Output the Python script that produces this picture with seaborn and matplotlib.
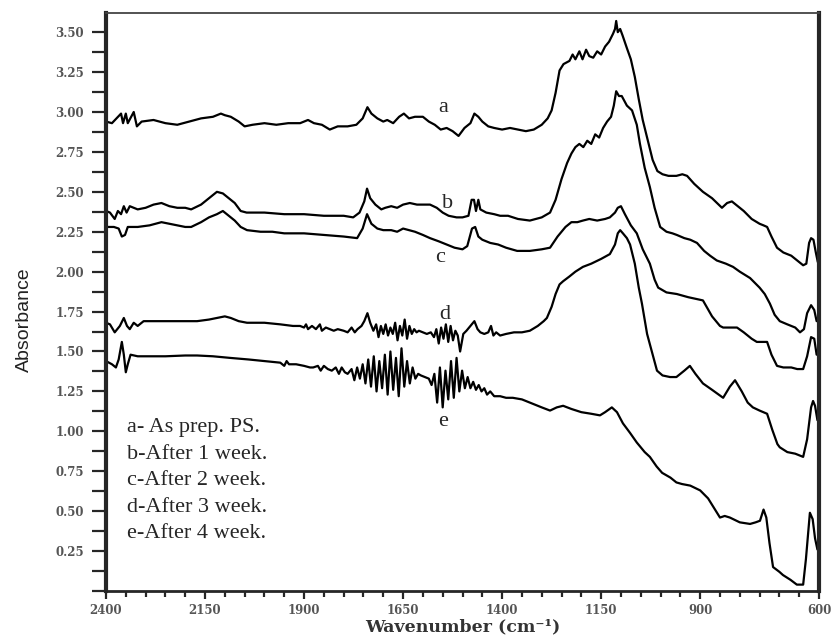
import numpy as np
import pandas as pd
import matplotlib
matplotlib.use('Agg')
import matplotlib.pyplot as plt
import seaborn as sns
from matplotlib.ticker import MultipleLocator, FormatStrFormatter

# spectra: wavenumber (cm-1) / absorbance
a_wn = [2400, 2385, 2362, 2357, 2350, 2345, 2330, 2322, 2310, 2280, 2250, 2220, 2190, 2160, 2130, 2110, 2100, 2085,
        2065, 2050, 2030, 2000, 1970, 1940, 1910, 1890, 1875, 1855, 1835, 1815, 1790, 1768, 1752, 1740, 1730, 1715,
        1700, 1690, 1675, 1660, 1648, 1635, 1620, 1600, 1585, 1570, 1555, 1540, 1525, 1510, 1495, 1480, 1470, 1460,
        1450, 1435, 1420, 1400, 1380, 1360, 1340, 1320, 1300, 1285, 1275, 1265, 1255, 1245, 1230, 1222, 1215, 1205,
        1197, 1188, 1180, 1170, 1160, 1150, 1140, 1130, 1120, 1115, 1112, 1108, 1102, 1096, 1085, 1075, 1065, 1055,
        1045, 1035, 1020, 1008, 995, 980, 960, 945, 933, 915, 893, 870, 845, 832, 820, 805, 790, 770, 750, 740, 731,
        720, 706, 690, 670, 655, 640, 632, 625, 620, 614, 608, 603]
a_abs = [2.94, 2.93, 2.99, 2.93, 2.99, 2.93, 3.00, 2.91, 2.94, 2.95, 2.93, 2.92, 2.94, 2.96, 2.97, 2.99, 2.98, 2.97,
         2.94, 2.91, 2.92, 2.93, 2.92, 2.93, 2.93, 2.95, 2.93, 2.92, 2.89, 2.91, 2.91, 2.92, 2.96, 3.03, 2.99, 2.96,
         2.94, 2.95, 2.93, 2.97, 2.99, 2.96, 2.97, 2.97, 2.94, 2.92, 2.89, 2.90, 2.88, 2.85, 2.90, 2.93, 2.99, 2.97,
         2.94, 2.91, 2.90, 2.89, 2.90, 2.89, 2.88, 2.89, 2.92, 2.96, 3.01, 3.12, 3.26, 3.30, 3.32, 3.36, 3.33, 3.38,
         3.33, 3.39, 3.35, 3.34, 3.38, 3.36, 3.41, 3.44, 3.49, 3.52, 3.57, 3.50, 3.52, 3.48, 3.40, 3.33, 3.22, 3.08,
         2.95, 2.85, 2.70, 2.63, 2.61, 2.60, 2.60, 2.61, 2.60, 2.55, 2.50, 2.46, 2.40, 2.43, 2.44, 2.41, 2.38, 2.33,
         2.30, 2.29, 2.28, 2.22, 2.15, 2.12, 2.10, 2.07, 2.04, 2.05, 2.18, 2.21, 2.20, 2.12, 2.06]

b_wn = [2400, 2390, 2378, 2370, 2362, 2355, 2348, 2340, 2320, 2300, 2280, 2260, 2240, 2220, 2200, 2185, 2160, 2140,
        2120, 2105, 2090, 2075, 2060, 2045, 2000, 1950, 1900, 1850, 1800, 1776, 1760, 1748, 1741, 1733, 1720, 1705,
        1695, 1680, 1665, 1650, 1633, 1615, 1598, 1582, 1565, 1550, 1535, 1515, 1500, 1485, 1477, 1471, 1466, 1460,
        1455, 1440, 1420, 1405, 1385, 1360, 1330, 1300, 1279, 1265, 1250, 1236, 1225, 1215, 1205, 1195, 1185, 1175,
        1165, 1155, 1145, 1135, 1125, 1118, 1112, 1105, 1098, 1085, 1072, 1060, 1052, 1040, 1027, 1015, 1001, 985,
        970, 959, 940, 925, 908, 890, 875, 858, 835, 817, 800, 774, 750, 737, 724, 712, 699, 680, 660, 648, 638, 630,
        620, 612, 606]
b_abs = [2.38, 2.37, 2.33, 2.38, 2.36, 2.41, 2.37, 2.41, 2.39, 2.40, 2.42, 2.43, 2.41, 2.40, 2.40, 2.39, 2.42, 2.46,
         2.50, 2.49, 2.46, 2.43, 2.38, 2.37, 2.37, 2.36, 2.36, 2.35, 2.35, 2.34, 2.37, 2.44, 2.52, 2.46, 2.42, 2.39,
         2.40, 2.41, 2.40, 2.42, 2.43, 2.42, 2.42, 2.42, 2.40, 2.37, 2.35, 2.34, 2.34, 2.35, 2.45, 2.45, 2.38, 2.45,
         2.39, 2.37, 2.36, 2.35, 2.35, 2.33, 2.32, 2.34, 2.37, 2.45, 2.58, 2.68, 2.74, 2.78, 2.80, 2.78, 2.82, 2.80,
         2.86, 2.84, 2.90, 2.94, 2.97, 3.04, 3.13, 3.10, 3.10, 3.04, 3.01, 2.92, 2.80, 2.65, 2.53, 2.40, 2.28, 2.25,
         2.24, 2.23, 2.21, 2.20, 2.18, 2.13, 2.10, 2.07, 2.05, 2.03, 2.00, 1.96, 1.90, 1.86, 1.80, 1.73, 1.69, 1.67,
         1.65, 1.62, 1.64, 1.74, 1.79, 1.76, 1.69]

c_wn = [2400, 2380, 2368, 2360, 2352, 2345, 2320, 2290, 2260, 2240, 2220, 2200, 2185, 2160, 2140, 2120, 2105, 2090,
        2075, 2060, 2044, 2010, 1980, 1950, 1900, 1850, 1800, 1766, 1752, 1741, 1730, 1715, 1700, 1680, 1665, 1650,
        1635, 1620, 1600, 1582, 1560, 1540, 1520, 1500, 1488, 1476, 1468, 1460, 1450, 1430, 1410, 1390, 1362, 1330,
        1300, 1279, 1260, 1240, 1225, 1210, 1196, 1180, 1160, 1140, 1128, 1115, 1108, 1100, 1090, 1075, 1060, 1045,
        1027, 1015, 1006, 985, 959, 930, 893, 870, 850, 842, 825, 807, 790, 770, 757, 745, 731, 720, 706, 690, 670,
        655, 640, 630, 620, 612, 606]
c_abs = [2.28, 2.28, 2.27, 2.22, 2.23, 2.28, 2.28, 2.29, 2.31, 2.30, 2.29, 2.28, 2.28, 2.31, 2.34, 2.36, 2.38, 2.35,
         2.32, 2.28, 2.26, 2.25, 2.25, 2.24, 2.24, 2.23, 2.22, 2.21, 2.27, 2.36, 2.30, 2.27, 2.26, 2.26, 2.25, 2.27,
         2.26, 2.25, 2.23, 2.21, 2.19, 2.17, 2.15, 2.14, 2.16, 2.27, 2.28, 2.22, 2.20, 2.18, 2.17, 2.15, 2.13, 2.13,
         2.14, 2.15, 2.22, 2.28, 2.31, 2.31, 2.32, 2.33, 2.32, 2.33, 2.34, 2.37, 2.40, 2.41, 2.36, 2.29, 2.24, 2.14,
         2.05, 1.95, 1.90, 1.87, 1.86, 1.84, 1.82, 1.72, 1.66, 1.65, 1.65, 1.65, 1.62, 1.58, 1.56, 1.56, 1.56, 1.48,
         1.41, 1.40, 1.40, 1.39, 1.39, 1.47, 1.59, 1.58, 1.48]

d_wn = [2400, 2390, 2378, 2365, 2355, 2347, 2340, 2330, 2320, 2305, 2289, 2250, 2200, 2170, 2140, 2120, 2100, 2085,
        2065, 2044, 2000, 1960, 1928, 1910, 1900, 1895, 1890, 1880, 1870, 1860, 1855, 1845, 1835, 1825, 1815, 1800,
        1790, 1780, 1772, 1765, 1755, 1748, 1740, 1733, 1725, 1718, 1712, 1706, 1700, 1694, 1688, 1682, 1676, 1670,
        1664, 1658, 1652, 1646, 1640, 1634, 1628, 1622, 1616, 1610, 1600, 1590, 1580, 1572, 1566, 1560, 1554, 1548,
        1542, 1536, 1530, 1524, 1518, 1512, 1506, 1498, 1490, 1480, 1470, 1462, 1455, 1445, 1435, 1428, 1422, 1415,
        1405, 1390, 1370, 1350, 1330, 1310, 1295, 1287, 1275, 1265, 1255, 1246, 1230, 1215, 1196, 1175, 1150, 1128,
        1115, 1108, 1102, 1095, 1085, 1077, 1065, 1055, 1047, 1034, 1020, 1009, 995, 976, 960, 940, 926, 912, 893,
        870, 842, 825, 812, 795, 780, 767, 750, 731, 718, 705, 699, 680, 660, 640, 630, 620, 615, 610, 604]
d_abs = [1.68, 1.67, 1.62, 1.66, 1.71, 1.66, 1.64, 1.68, 1.66, 1.69, 1.69, 1.69, 1.69, 1.69, 1.70, 1.71, 1.72, 1.71,
         1.69, 1.68, 1.68, 1.67, 1.66, 1.66, 1.65, 1.67, 1.64, 1.66, 1.64, 1.67, 1.63, 1.65, 1.64, 1.63, 1.64, 1.63,
         1.62, 1.65, 1.62, 1.64, 1.66, 1.69, 1.74, 1.68, 1.63, 1.67, 1.59, 1.66, 1.61, 1.67, 1.60, 1.65, 1.61, 1.68,
         1.57, 1.66, 1.60, 1.70, 1.58, 1.66, 1.61, 1.64, 1.62, 1.63, 1.62, 1.61, 1.62, 1.59, 1.64, 1.55, 1.65, 1.58,
         1.67, 1.56, 1.66, 1.57, 1.63, 1.60, 1.50, 1.61, 1.63, 1.66, 1.69, 1.64, 1.62, 1.61, 1.62, 1.66, 1.60, 1.62,
         1.60, 1.61, 1.62, 1.62, 1.63, 1.66, 1.69, 1.71, 1.78, 1.86, 1.92, 1.94, 1.97, 2.00, 2.03, 2.05, 2.08, 2.11,
         2.17, 2.24, 2.26, 2.24, 2.21, 2.17, 2.05, 1.90, 1.80, 1.61, 1.48, 1.38, 1.35, 1.34, 1.34, 1.38, 1.41, 1.36,
         1.30, 1.26, 1.21, 1.28, 1.32, 1.25, 1.18, 1.15, 1.13, 1.11, 1.01, 0.92, 0.90, 0.87, 0.86, 0.84, 0.95, 1.15,
         1.19, 1.16, 1.07]

e_wn = [2400, 2385, 2375, 2368, 2360, 2355, 2350, 2345, 2338, 2320, 2290, 2250, 2200, 2170, 2130, 2087, 2040, 2000,
        1960, 1950, 1944, 1938, 1920, 1900, 1885, 1877, 1865, 1858, 1850, 1840, 1830, 1820, 1812, 1805, 1797, 1790,
        1780, 1773, 1766, 1759, 1752, 1745, 1738, 1731, 1724, 1717, 1710, 1703, 1696, 1689, 1682, 1675, 1668, 1661,
        1654, 1647, 1640, 1633, 1626, 1619, 1612, 1605, 1595, 1585, 1578, 1571, 1564, 1557, 1550, 1543, 1536, 1529,
        1522, 1515, 1508, 1501, 1494, 1487, 1480, 1473, 1466, 1459, 1452, 1445, 1438, 1430, 1420, 1405, 1390, 1373,
        1350, 1320, 1300, 1279, 1262, 1246, 1225, 1200, 1175, 1153, 1140, 1123, 1110, 1095, 1077, 1060, 1040, 1027,
        1010, 996, 975, 960, 946, 925, 900, 880, 865, 850, 838, 825, 800, 774, 760, 749, 740, 733, 725, 716, 700,
        691, 672, 656, 640, 633, 623, 616, 610, 604]
e_abs = [1.44, 1.42, 1.40, 1.45, 1.56, 1.48, 1.37, 1.42, 1.48, 1.47, 1.47, 1.47, 1.475, 1.475, 1.47, 1.46, 1.45, 1.44,
         1.43, 1.41, 1.44, 1.42, 1.42, 1.41, 1.40, 1.40, 1.41, 1.38, 1.41, 1.39, 1.38, 1.40, 1.36, 1.40, 1.37, 1.36,
         1.39, 1.32, 1.40, 1.33, 1.42, 1.30, 1.45, 1.28, 1.47, 1.25, 1.44, 1.27, 1.48, 1.23, 1.50, 1.26, 1.46, 1.22,
         1.52, 1.28, 1.44, 1.30, 1.40, 1.33, 1.36, 1.35, 1.34, 1.33, 1.29, 1.36, 1.18, 1.40, 1.15, 1.38, 1.20, 1.44,
         1.21, 1.46, 1.25, 1.38, 1.27, 1.34, 1.27, 1.31, 1.26, 1.29, 1.25, 1.27, 1.23, 1.25, 1.22, 1.22, 1.21, 1.21,
         1.20, 1.17, 1.15, 1.13, 1.15, 1.16, 1.14, 1.12, 1.11, 1.10, 1.12, 1.15, 1.12, 1.05, 0.99, 0.93, 0.87, 0.84,
         0.78, 0.74, 0.71, 0.68, 0.67, 0.66, 0.63, 0.58, 0.52, 0.46, 0.47, 0.46, 0.43, 0.42, 0.43, 0.44, 0.51, 0.46,
         0.30, 0.15, 0.12, 0.10, 0.07, 0.04, 0.04, 0.20, 0.49, 0.45, 0.33, 0.26]

curve_names = ['a', 'b', 'c', 'd', 'e']
curve_label_pos = [(1549, 3.03), (1539, 2.43), (1557, 2.09), (1544, 1.73), (1549, 1.06)]
legend_lines = ['a- As prep. PS.', 'b-After 1 week.', 'c-After 2 week.', 'd-After 3 week.', 'e-After 4 week.']

sns.set_style('ticks')
plt.rcParams['font.family'] = ['DejaVu Serif']

fig = plt.figure(figsize=(8.37, 6.42), dpi=100)
ax = fig.add_axes([106 / 837, 1 - 591 / 642, 713 / 837, 578 / 642])

for wn, ab in [(a_wn, a_abs), (b_wn, b_abs), (c_wn, c_abs), (d_wn, d_abs), (e_wn, e_abs)]:
    df = pd.DataFrame({'wn': wn, 'abs': ab})
    sns.lineplot(data=df, x='wn', y='abs', ax=ax, color='black', lw=1.6, sort=False, estimator=None)

for name, (x, y) in zip(curve_names, curve_label_pos):
    ax.text(x, y, name, fontsize=16, family='Liberation Serif', ha='center', va='center')
for i, line in enumerate(legend_lines):
    ax.text(2347, 1.025 - i * 0.167, line, fontsize=16, family='Liberation Serif', ha='left', va='center')

ax.set_xlim(2400, 600)
ax.set_ylim(0, 3.62)
ax.set_xticks([2400, 2150, 1900, 1650, 1400, 1150, 900, 600])
ax.xaxis.set_minor_locator(MultipleLocator(50))
ax.set_yticks(np.arange(0.25, 3.51, 0.25))
ax.yaxis.set_minor_locator(MultipleLocator(0.125))
ax.yaxis.set_major_formatter(FormatStrFormatter('%.2f'))

ax.tick_params(axis='y', which='both', direction='out', length=10, width=1.6, pad=6,
               labelsize=8.5, labelcolor='#555555')
ax.tick_params(axis='x', which='major', direction='out', length=6, width=1.6, pad=3,
               labelsize=8.5, labelcolor='#555555')
ax.tick_params(axis='x', which='minor', direction='out', length=4, width=1.6)
for lab in ax.get_xticklabels() + ax.get_yticklabels():
    lab.set_fontweight('bold')

ax.spines['left'].set_linewidth(3)
ax.spines['right'].set_linewidth(3)
ax.spines['bottom'].set_linewidth(2)
ax.spines['top'].set_linewidth(1.3)
ax.spines['top'].set_color('#444444')

ax.set_xlabel('Wavenumber (cm⁻¹)', fontsize=12.5, fontweight='bold', color='#333333')
ax.xaxis.set_label_coords(0.5, -0.048)
ax.set_ylabel('Absorbance', fontsize=14, family='Liberation Sans', color='#222222')
ax.yaxis.set_label_coords(-0.102, 0.47)

fig.savefig('out.png', dpi=100)
